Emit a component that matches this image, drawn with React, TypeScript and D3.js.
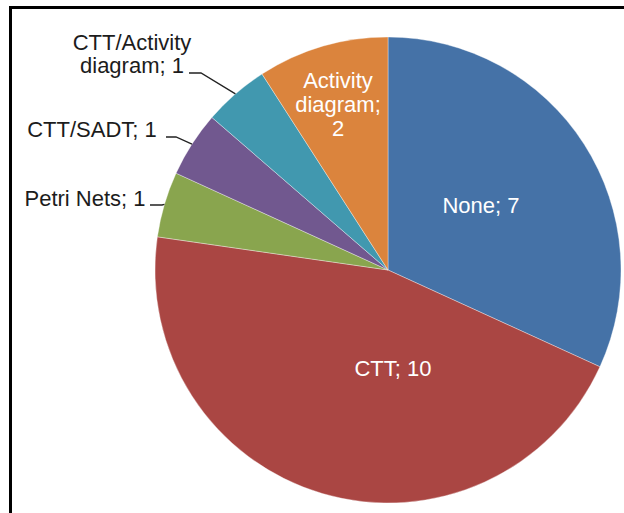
import React from "react";
import * as d3 from "d3";

const categories = ["None", "CTT", "Petri Nets", "CTT/SADT", "CTT/Activity diagram", "Activity diagram"];
const counts = [7, 10, 1, 1, 1, 2];
const colors = ["#4572A7", "#AA4643", "#89A54E", "#71588F", "#4198AF", "#DB843D"];

const W = 624;
const H = 513;
const CX = 388;
const CY = 270;
const R = 233;
const FONT = "'Liberation Sans', Arial, sans-serif";
const FS = 22;

type Slice = d3.PieArcDatum<number>;

// Label placement for each slice: inside labels are centred lines,
// outside labels are centred text blocks with an elbow leader to the slice edge.
const labelLayout: {
  inside: boolean;
  lines: string[];
  x: number;
  y: number; // baseline of first line
  leaderY?: number;
  leaderStart?: number;
  elbowX?: number;
}[] = [
  { inside: true, lines: ["None; 7"], x: 481, y: 213 },
  { inside: true, lines: ["CTT; 10"], x: 393, y: 376 },
  { inside: false, lines: ["Petri Nets; 1"], x: 85, y: 206, leaderY: 205, leaderStart: 150, elbowX: 162 },
  { inside: false, lines: ["CTT/SADT; 1"], x: 92, y: 137, leaderY: 137, leaderStart: 166, elbowX: 176 },
  { inside: false, lines: ["CTT/Activity", "diagram; 1"], x: 132, y: 50, leaderY: 73, leaderStart: 189, elbowX: 201 },
  { inside: true, lines: ["Activity", "diagram;", "2"], x: 338, y: 88 },
];

export default function App() {
  const pie = d3
    .pie<number>()
    .sort(null)
    .value((d) => d)
    .startAngle(0)
    .endAngle(2 * Math.PI);
  const arcs: Slice[] = pie(counts);
  const arcGen = d3.arc<Slice>().innerRadius(0).outerRadius(R);

  const edgePoint = (a: Slice) => {
    const mid = (a.startAngle + a.endAngle) / 2;
    return [CX + R * Math.sin(mid), CY - R * Math.cos(mid)];
  };

  return (
    <svg
      width={W}
      height={H}
      viewBox={`0 0 ${W} ${H}`}
      style={{ position: "absolute", left: 0, top: 0, display: "block", background: "#fff" }}
    >
      <rect x={0} y={0} width={W} height={H} fill="#fff" />
      {/* frame */}
      <path d={`M10.5,${H + 2} L10.5,7.5 L${W + 2},7.5`} fill="none" stroke="#000" strokeWidth={3} />
      <g transform={`translate(${CX},${CY})`}>
        {arcs.map((a, i) => (
          <path key={categories[i]} d={arcGen(a) || ""} fill={colors[i]} stroke="#fff" strokeWidth={0.6} strokeOpacity={0.6} />
        ))}
      </g>
      {arcs.map((a, i) => {
        const L = labelLayout[i];
        const fill = L.inside ? "#fff" : "#1c1c1c";
        const lineH = L.inside ? 24 : 23;
        let leader = null;
        if (!L.inside) {
          const [ex, ey] = edgePoint(a);
          leader = (
            <polyline
              points={`${L.leaderStart},${L.leaderY} ${L.elbowX},${L.leaderY} ${ex},${ey}`}
              fill="none"
              stroke="#222"
              strokeWidth={1.3}
            />
          );
        }
        return (
          <g key={`lbl-${categories[i]}`}>
            {leader}
            <text fontFamily={FONT} fontSize={FS} fill={fill} textAnchor="middle">
              {L.lines.map((t, j) => (
                <tspan key={j} x={L.x} y={L.y + j * lineH}>
                  {t}
                </tspan>
              ))}
            </text>
          </g>
        );
      })}
    </svg>
  );
}
